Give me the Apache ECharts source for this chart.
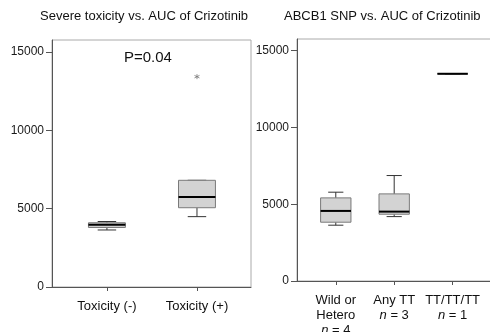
<!DOCTYPE html>
<html>
<head>
<meta charset="utf-8">
<script src="https://cdn.jsdelivr.net/npm/echarts@6/dist/echarts.min.js"></script>
<style>
  html, body { margin: 0; padding: 0; background: #fff; }
  #chart { width: 490px; height: 332px; }
</style>
</head>
<body>
<div id="chart"></div>
<script>
// left panel: severe toxicity groups
const toxCategories = ['Toxicity (-)', 'Toxicity (+)']
// [min, Q1, median, Q3, max]
const toxStats = [
  [3640, 3800, 3980, 4100, 4180],
  [4490, 5060, 5745, 6810, 6810]
]
const toxOutliers = [[2, 13425]]
const toxPValue = 'P=0.04'

// right panel: ABCB1 SNP groups
const snpCategories = ['Wild or\nHetero\n{it|n} = 4', 'Any TT\n{it|n} = 3', 'TT/TT/TT\n{it|n} = 1']
const snpStats = [
  [3635, 3830, 4565, 5415, 5785],
  [4195, 4350, 4520, 5675, 6870],
  [13500, 13500, 13500, 13500, 13500]
]

const yTicks = [0, 5000, 10000, 15000]
const yMax = 15765

const font = '"Liberation Sans", Arial, sans-serif'

// box drawn through the axes: x = group index + 1, values are the five stats
function boxRenderer(boxW) {
  return function (params, api) {
    const x = api.value(0)
    const pMin = api.coord([x, api.value(1)])
    const pQ1 = api.coord([x, api.value(2)])
    const pMed = api.coord([x, api.value(3)])
    const pQ3 = api.coord([x, api.value(4)])
    const pMax = api.coord([x, api.value(5)])
    const w = api.size([boxW, 0])[0]
    const cx = pMed[0]
    const cap = w / 4
    const whisker = { stroke: '#333', lineWidth: 1 }
    return {
      type: 'group',
      children: [
        { type: 'line', shape: { x1: cx, y1: pMax[1], x2: cx, y2: pQ3[1] }, style: whisker },
        { type: 'line', shape: { x1: cx, y1: pQ1[1], x2: cx, y2: pMin[1] }, style: whisker },
        { type: 'line', shape: { x1: cx - cap, y1: pMax[1], x2: cx + cap, y2: pMax[1] }, style: whisker },
        { type: 'line', shape: { x1: cx - cap, y1: pMin[1], x2: cx + cap, y2: pMin[1] }, style: whisker },
        {
          type: 'rect',
          shape: { x: cx - w / 2, y: pQ3[1], width: w, height: pQ1[1] - pQ3[1] },
          style: { fill: '#d3d3d3', stroke: '#7a7a7a', lineWidth: 1 }
        },
        { type: 'line', shape: { x1: cx - w / 2, y1: pMed[1], x2: cx + w / 2, y2: pMed[1] }, style: { stroke: '#000', lineWidth: 2 } }
      ]
    }
  }
}

const yAxisBase = {
  type: 'value',
  min: 0,
  max: yMax,
  splitLine: { show: false },
  axisLine: { show: true, lineStyle: { color: '#555' } },
  axisTick: { show: true, length: 6, customValues: yTicks, lineStyle: { color: '#555' } },
  axisLabel: { customValues: yTicks, margin: 8, fontSize: 12, color: '#1a1a1a', fontFamily: font,
    formatter: v => String(v) }
}

const chart = echarts.init(document.getElementById('chart'))
const option = {
  animation: false,
  title: [
    { text: 'Severe toxicity vs. AUC of Crizotinib', left: 40, top: 10, padding: 0,
      textStyle: { fontSize: 13, fontWeight: 'normal', color: '#111', fontFamily: font } },
    { text: 'ABCB1 SNP vs. AUC of Crizotinib', left: 284, top: 10, padding: 0,
      textStyle: { fontSize: 13, fontWeight: 'normal', color: '#111', fontFamily: font } },
    { text: toxPValue, left: 124, top: 50, padding: 0,
      textStyle: { fontSize: 15, fontWeight: 'normal', color: '#111', fontFamily: font } }
  ],
  grid: [
    { left: 52, top: 40, width: 199, height: 247, show: true, borderColor: '#aaa', borderWidth: 1,
      outerBoundsMode: 'none', containLabel: false },
    { left: 297, top: 39, width: 214, height: 242, show: true, borderColor: '#aaa', borderWidth: 1,
      outerBoundsMode: 'none', containLabel: false }
  ],
  xAxis: [
    {
      type: 'value', gridIndex: 0, min: 0.39, max: 2.6,
      splitLine: { show: false },
      axisLine: { show: true, lineStyle: { color: '#555' } },
      axisTick: { show: true, length: 4, customValues: [1, 2], lineStyle: { color: '#555' } },
      axisLabel: {
        customValues: [1, 2], margin: 13, fontSize: 13, color: '#111', fontFamily: font,
        formatter: v => toxCategories[v - 1]
      }
    },
    {
      type: 'value', gridIndex: 1, min: 0.336, max: 4.0,
      splitLine: { show: false },
      axisLine: { show: true, lineStyle: { color: '#555' } },
      axisTick: { show: true, length: 4, customValues: [1, 2, 3], lineStyle: { color: '#555' } },
      axisLabel: {
        customValues: [1, 2, 3], margin: 12, fontSize: 13, lineHeight: 15, color: '#111', fontFamily: font,
        formatter: v => snpCategories[v - 1],
        rich: { it: { fontStyle: 'italic', fontSize: 13, lineHeight: 15, color: '#111', fontFamily: font } }
      }
    }
  ],
  yAxis: [
    Object.assign({ gridIndex: 0 }, yAxisBase),
    Object.assign({ gridIndex: 1 }, yAxisBase)
  ],
  series: [
    {
      type: 'custom', xAxisIndex: 0, yAxisIndex: 0,
      renderItem: boxRenderer(0.41),
      data: toxStats.map((s, i) => [i + 1].concat(s))
    },
    {
      type: 'scatter', xAxisIndex: 0, yAxisIndex: 0,
      symbol: 'path://M0,-5L0,5M-4.5,-2.5L4.5,2.5M-4.5,2.5L4.5,-2.5',
      symbolSize: 5,
      itemStyle: { color: 'transparent', borderColor: '#777', borderWidth: 1 },
      data: toxOutliers
    },
    {
      type: 'custom', xAxisIndex: 1, yAxisIndex: 1,
      renderItem: boxRenderer(0.52),
      data: snpStats.map((s, i) => [i + 1].concat(s))
    }
  ]
}
chart.setOption(option)
</script>
</body>
</html>
